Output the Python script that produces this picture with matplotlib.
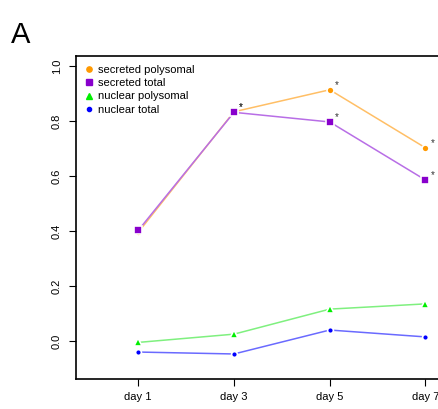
import matplotlib
matplotlib.use('Agg')
import matplotlib.pyplot as plt

plt.rcParams['font.family'] = ['Liberation Sans', 'DejaVu Sans']

days = ['day 1', 'day 3', 'day 5', 'day 7']
sec_poly = [0.395, 0.833, 0.913, 0.702]
sec_total = [0.402, 0.831, 0.796, 0.585]
nuc_poly = [-0.005, 0.025, 0.116, 0.135]
nuc_total = [-0.040, -0.047, 0.040, 0.015]
starred = [1, 2, 3]

series = [
    ('secreted polysomal', sec_poly, '#ff9900', '#ffbf66', 'o', 5.0),
    ('secreted total', sec_total, '#8800cc', '#b86ee6', 's', 5.4),
    ('nuclear polysomal', nuc_poly, '#00ee00', '#7ff07f', '^', 6.0),
    ('nuclear total', nuc_total, '#0000ff', '#6a6aff', 'o', 4.2),
]

fig = plt.figure(figsize=(4.38, 4.09), dpi=100)
ax = fig.add_axes([0.1735, 0.0733, 0.94, 0.79])
x = list(range(len(days)))

handles = []
for name, vals, col, lcol, mk, ms in series:
    ax.plot(x, vals, color=lcol, lw=1.1, zorder=1)
    ax.plot(x, vals, ls='none', marker=mk, ms=ms, color=col,
            mec='white', mew=1.2, zorder=2)
    handles.append(ax.plot([], [], ls='none', marker=mk, ms=ms - 1.2, color=col)[0])

for vals in (sec_poly, sec_total):
    for i in starred:
        ax.annotate('*', (x[i], vals[i]), xytext=(5, 0), textcoords='offset points',
                    fontsize=7, color='#333333', ha='center', va='bottom')

ax.set_xlim(-0.65, 3.65)
ax.set_ylim(-0.138, 1.036)
ax.set_xticks(x)
ax.set_xticklabels(days, fontsize=8)
ax.set_yticks([0.0, 0.2, 0.4, 0.6, 0.8, 1.0])
ax.set_yticklabels(['0.0', '0.2', '0.4', '0.6', '0.8', '1.0'], fontsize=8,
                   rotation=90, va='center')
ax.tick_params(axis='x', length=5, pad=4)
ax.tick_params(axis='y', length=5, pad=5)
for s in ax.spines.values():
    s.set_linewidth(1.2)

ax.legend(handles, [s[0] for s in series], loc='upper left', frameon=False,
          fontsize=8, handlelength=0.8, handletextpad=0.4, labelspacing=0.3,
          borderaxespad=0.4, bbox_to_anchor=(0.0, 1.0))

fig.text(0.025, 0.895, 'A', fontsize=21)

fig.savefig('out.png', dpi=100)
